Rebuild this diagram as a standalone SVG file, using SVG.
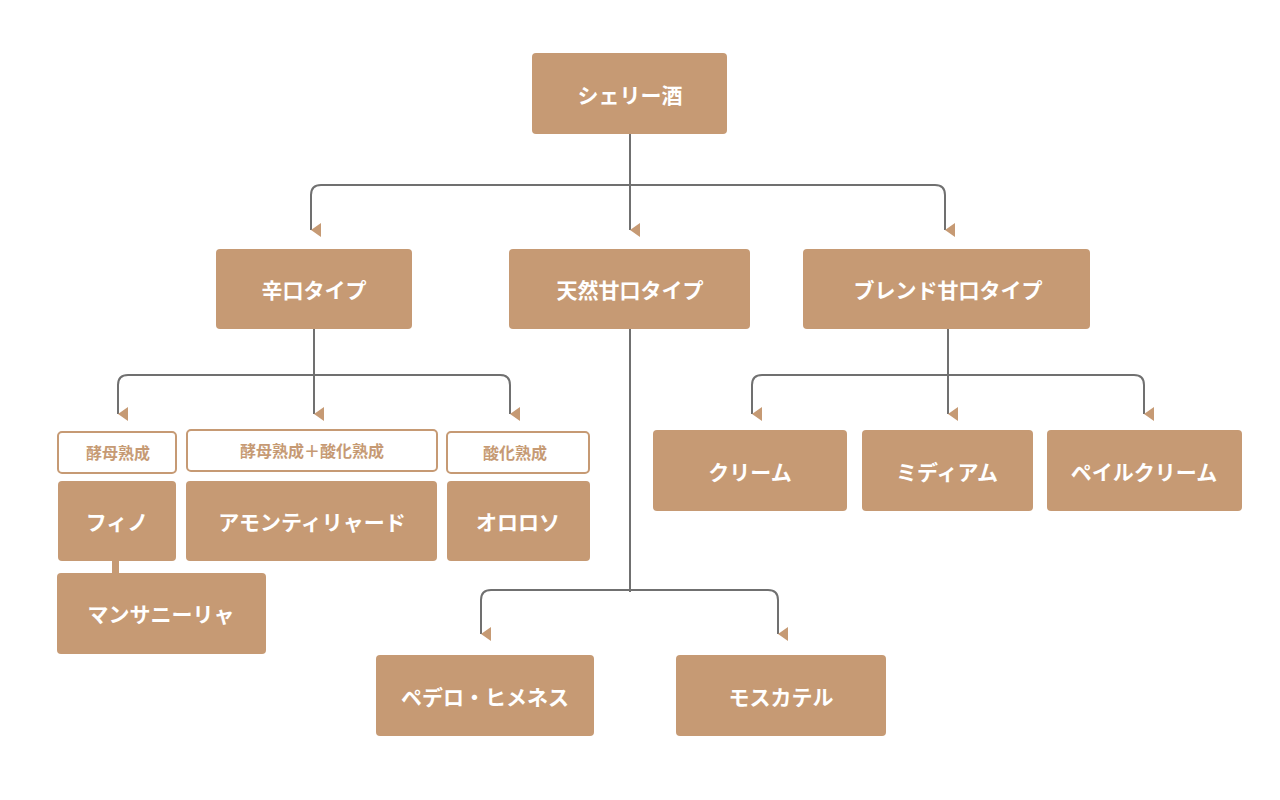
<svg xmlns="http://www.w3.org/2000/svg" width="1280" height="800" viewBox="0 0 1280 800">
<style>
.n{fill:#C69A74}
.t{fill:#fff;font-family:"Noto Sans CJK JP",sans-serif;font-weight:bold;font-size:21px;text-anchor:middle;dominant-baseline:central}
.lb{fill:#fff;stroke:#C69A74;stroke-width:2}
.lt{fill:#C69A74;font-family:"Noto Sans CJK JP",sans-serif;font-weight:bold;font-size:16px;text-anchor:middle;dominant-baseline:central}
.c{fill:none;stroke:#707070;stroke-width:2}
</style>
<defs><marker id="a" viewBox="0 0 10 10" refX="5" refY="10" markerWidth="14" markerHeight="10" markerUnits="userSpaceOnUse" orient="auto-start-reverse" preserveAspectRatio="none"><path d="M0,0L10,0L5,10z" fill="#C69A74"/></marker></defs>
<rect width="1280" height="800" fill="#fff"/>
<g id="connectors">
<path class="c" d="M630,134V230"/>
<path class="c" d="M630,185H321Q311,185 311,195V230" marker-end="url(#a)"/>
<path class="c" d="M630,185V230" marker-end="url(#a)"/>
<path class="c" d="M630,185H935Q945,185 945,195V230" marker-end="url(#a)"/>
<path class="c" d="M314,329V414" marker-end="url(#a)"/>
<path class="c" d="M314,375H128Q118,375 118,385V414" marker-end="url(#a)"/>
<path class="c" d="M314,375H500Q510,375 510,385V414" marker-end="url(#a)"/>
<path class="c" d="M630,329V592"/>
<path class="c" d="M630,590H491Q481,590 481,600V634" marker-end="url(#a)"/>
<path class="c" d="M630,590H768Q778,590 778,600V634" marker-end="url(#a)"/>
<path class="c" d="M948,329V414" marker-end="url(#a)"/>
<path class="c" d="M948,375H762Q752,375 752,385V414" marker-end="url(#a)"/>
<path class="c" d="M948,375H1134Q1144,375 1144,385V414" marker-end="url(#a)"/>
<rect x="112" y="560" width="7" height="14" fill="#C69A74"/>
</g>
<g id="root"><rect class="n" x="532" y="53" width="195" height="81" rx="4"/><text class="t" x="630" y="94">シェリー酒</text></g>
<g id="dry"><rect class="n" x="216" y="249" width="196" height="80" rx="4"/><text class="t" x="314" y="289">辛口タイプ</text></g>
<g id="natural"><rect class="n" x="509" y="249" width="241" height="80" rx="4"/><text class="t" x="630" y="289">天然甘口タイプ</text></g>
<g id="blend"><rect class="n" x="803" y="249" width="287" height="80" rx="4"/><text class="t" x="948" y="289">ブレンド甘口タイプ</text></g>
<g id="lb1"><rect class="lb" x="58" y="432" width="118" height="41" rx="4"/><text class="lt" x="118" y="452">酵母熟成</text></g>
<g id="lb2"><rect class="lb" x="187" y="430" width="250" height="41" rx="4"/><text class="lt" x="312" y="450">酵母熟成＋酸化熟成</text></g>
<g id="lb3"><rect class="lb" x="447" y="432" width="142" height="41" rx="4"/><text class="lt" x="515" y="452">酸化熟成</text></g>
<g id="fino"><rect class="n" x="58" y="481" width="118" height="80" rx="4"/><text class="t" x="117" y="521">フィノ</text></g>
<g id="amontillado"><rect class="n" x="186" y="481" width="251" height="80" rx="4"/><text class="t" x="312" y="521">アモンティリャード</text></g>
<g id="oloroso"><rect class="n" x="447" y="481" width="143" height="80" rx="4"/><text class="t" x="518" y="521">オロロソ</text></g>
<g id="manzanilla"><rect class="n" x="57" y="573" width="209" height="81" rx="4"/><text class="t" x="161" y="613">マンサニーリャ</text></g>
<g id="pedro"><rect class="n" x="376" y="655" width="218" height="81" rx="4"/><text class="t" x="485" y="696">ペデロ・ヒメネス</text></g>
<g id="moscatel"><rect class="n" x="676" y="655" width="210" height="81" rx="4"/><text class="t" x="781" y="696">モスカテル</text></g>
<g id="cream"><rect class="n" x="653" y="430" width="194" height="81" rx="4"/><text class="t" x="750" y="471">クリーム</text></g>
<g id="medium"><rect class="n" x="862" y="430" width="171" height="81" rx="4"/><text class="t" x="947" y="471">ミディアム</text></g>
<g id="palecream"><rect class="n" x="1047" y="430" width="195" height="81" rx="4"/><text class="t" x="1144" y="471">ペイルクリーム</text></g>
</svg>
